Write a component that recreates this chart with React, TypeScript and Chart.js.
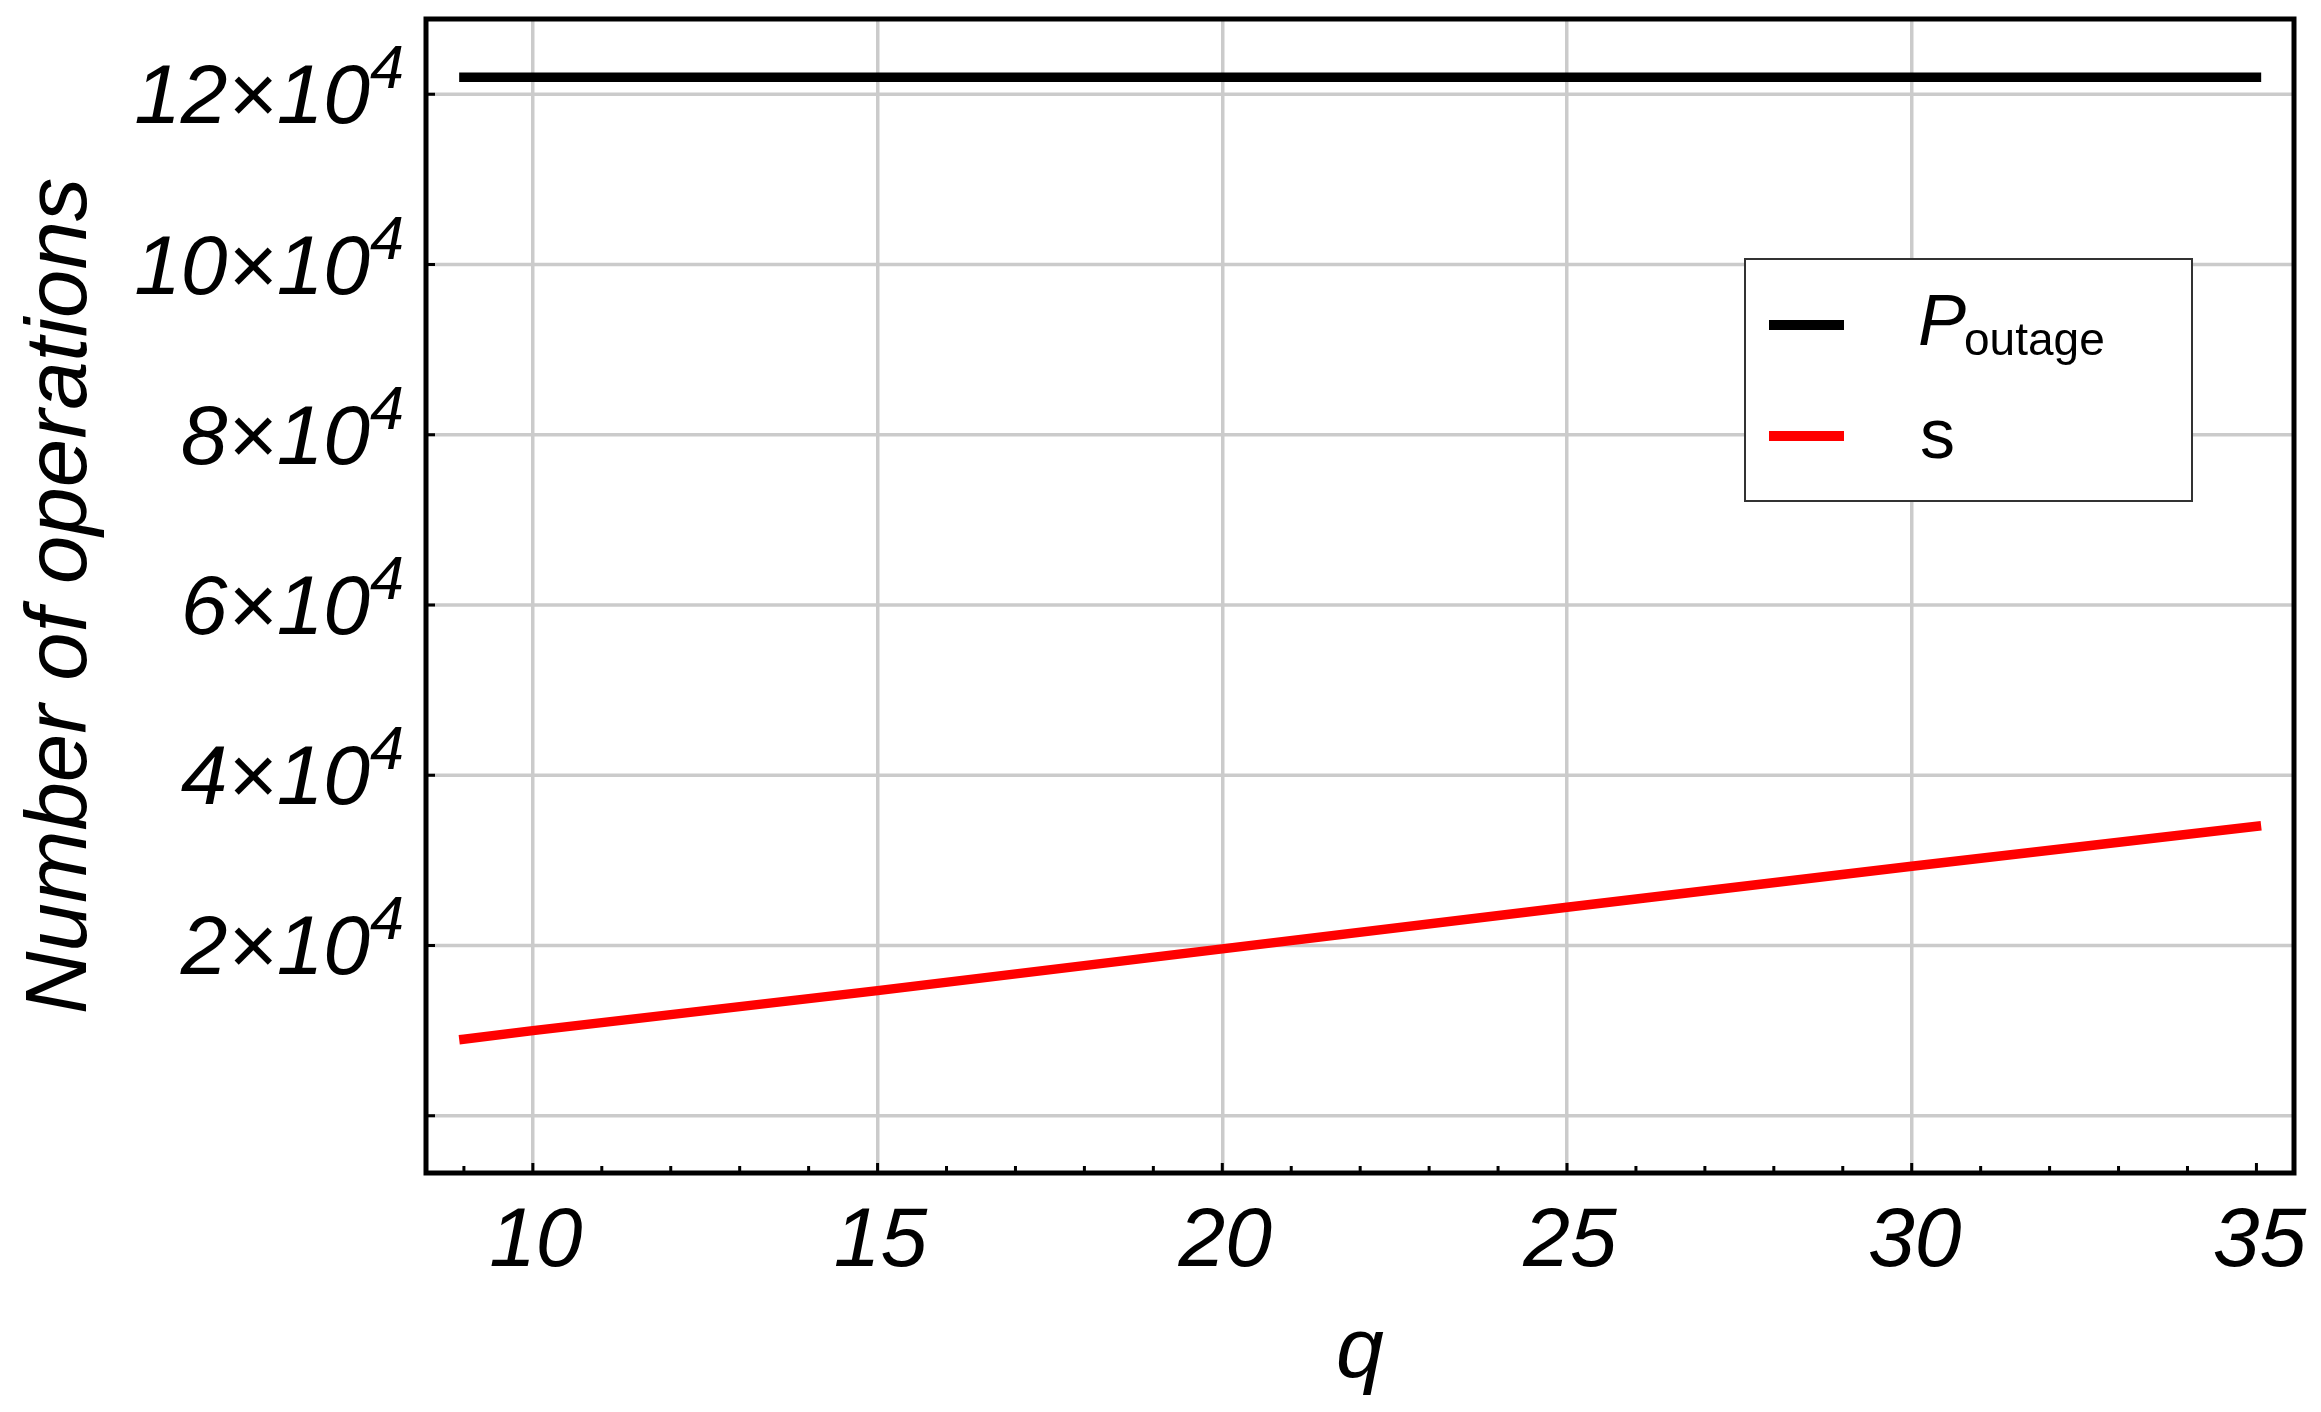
import React, { useEffect, useRef } from "react";
import { Chart, registerables } from "chart.js";

Chart.register(...registerables);

// ---- data ----
const qValues = [9, 10, 15, 20, 25, 30, 35];
const outageValues = [122000, 122000, 122000, 122000, 122000, 122000, 122000];
const sValues = [9000, 10000, 14700, 19600, 24500, 29300, 34000];
const seriesLabels = ["P_outage", "s"];
const xTickValues = [10, 15, 20, 25, 30, 35];
const xTickLabels = ["10", "15", "20", "25", "30", "35"];
const xGridValues = [10, 15, 20, 25, 30];
const yTickValues = [0, 20000, 40000, 60000, 80000, 100000, 120000];
const yTickLabels = ["", "2", "4", "6", "8", "10", "12"];
const yExponent = "4";
const xTitle = "q";
const yTitle = "Number of operations";

const FONT = '"Liberation Sans", Arial, sans-serif';
const GRID = "#cbcbcb";

const overlayPlugin = {
  id: "overlay",
  beforeDatasetsDraw(chart: any) {
    // horizontal grid lines from the y scale
    const ctx: CanvasRenderingContext2D = chart.ctx;
    const { left, right } = chart.chartArea;
    const ys = chart.scales.y;
    ctx.save();
    ctx.strokeStyle = GRID;
    ctx.lineWidth = 3.5;
    ctx.beginPath();
    yTickValues.forEach((v) => {
      const py = ys.getPixelForValue(v);
      ctx.moveTo(left, py);
      ctx.lineTo(right, py);
    });
    ctx.stroke();
    ctx.restore();
  },
  afterDraw(chart: any) {
    const ctx: CanvasRenderingContext2D = chart.ctx;
    const { left, top, right, bottom } = chart.chartArea;
    const xs = chart.scales.x;
    const ys = chart.scales.y;
    ctx.save();

    // frame
    ctx.strokeStyle = "#000";
    ctx.lineWidth = 5;
    ctx.strokeRect(left, top, right - left, bottom - top);

    // tick marks (inward)
    ctx.lineWidth = 3;
    ctx.beginPath();
    for (let q = Math.ceil(xs.min); q <= Math.floor(xs.max); q++) {
      const px = xs.getPixelForValue(q);
      const len = xTickValues.includes(q) ? 10 : 7;
      ctx.moveTo(px, bottom);
      ctx.lineTo(px, bottom - len);
    }
    yTickValues.forEach((v) => {
      const py = ys.getPixelForValue(v);
      ctx.moveTo(left, py);
      ctx.lineTo(left + 9, py);
    });
    ctx.stroke();

    ctx.fillStyle = "#000";
    // x tick labels
    ctx.font = `italic 84px ${FONT}`;
    ctx.textAlign = "center";
    ctx.textBaseline = "alphabetic";
    xTickValues.forEach((v, i) => {
      const px = xs.getPixelForValue(v);
      ctx.fillText(xTickLabels[i], px + 3, 1266);
    });

    // y tick labels with superscript
    yTickValues.forEach((v, i) => {
      const lab = yTickLabels[i];
      if (!lab) return;
      const py = ys.getPixelForValue(v);
      const rightEdge = 404;
      ctx.font = `italic 61px ${FONT}`;
      ctx.textAlign = "right";
      const supW = ctx.measureText(yExponent).width;
      ctx.fillText(yExponent, rightEdge, py - 6);
      ctx.font = `italic 84px ${FONT}`;
      ctx.fillText(lab + "\u00d710", rightEdge - supW, py + 29);
    });

    // axis titles
    ctx.font = `italic 86px ${FONT}`;
    ctx.textAlign = "center";
    ctx.fillText(xTitle, (left + right) / 2, 1377);

    ctx.save();
    ctx.translate(86, (top + bottom) / 2);
    ctx.rotate(-Math.PI / 2);
    ctx.font = `italic 87px ${FONT}`;
    ctx.textAlign = "center";
    ctx.fillText(yTitle, 0, 0);
    ctx.restore();

    // legend
    const lx = 1745, ly = 259, lw = 447, lh = 242;
    ctx.fillStyle = "#fff";
    ctx.fillRect(lx, ly, lw, lh);
    ctx.strokeStyle = "#333";
    ctx.lineWidth = 2;
    ctx.strokeRect(lx, ly, lw, lh);
    const rowY = [325, 436];
    chart.data.datasets.forEach((ds: any, i: number) => {
      const y = rowY[i];
      ctx.strokeStyle = ds.borderColor;
      ctx.lineWidth = 10;
      ctx.beginPath();
      ctx.moveTo(1769, y);
      ctx.lineTo(1844, y);
      ctx.stroke();
      ctx.fillStyle = "#000";
      ctx.textAlign = "left";
      const label: string = ds.label;
      if (label.includes("_")) {
        const [base, sub] = label.split("_");
        ctx.font = `italic 72px ${FONT}`;
        ctx.fillText(base, 1918, y + 20);
        const bw = ctx.measureText(base).width;
        ctx.font = `46px ${FONT}`;
        ctx.fillText(sub, 1918 + bw - 2, y + 30);
      } else {
        ctx.font = `70px ${FONT}`;
        ctx.fillText(label, 1920, y + 22);
      }
    });

    ctx.restore();
  },
};

export default function App() {
  const canvasRef = useRef<HTMLCanvasElement | null>(null);

  useEffect(() => {
    if (!canvasRef.current) return;
    const chart = new Chart(canvasRef.current, {
      type: "line",
      data: {
        datasets: [
          {
            label: seriesLabels[0],
            data: qValues.map((q, i) => ({ x: q, y: outageValues[i] })),
            borderColor: "#000000",
            backgroundColor: "#000000",
            borderWidth: 9.5,
            pointRadius: 0,
            tension: 0,
            borderCapStyle: "square",
          },
          {
            label: seriesLabels[1],
            data: qValues.map((q, i) => ({ x: q, y: sValues[i] })),
            borderColor: "#ff0000",
            backgroundColor: "#ff0000",
            borderWidth: 9.5,
            pointRadius: 0,
            tension: 0,
            borderCapStyle: "square",
          },
        ],
      },
      options: {
        animation: false,
        responsive: false,
        devicePixelRatio: 1,
        layout: { padding: { left: 426, top: 19, right: 27, bottom: 239 } },
        plugins: { legend: { display: false }, tooltip: { enabled: false } },
        scales: {
          x: {
            type: "linear",
            min: 8.45,
            max: 35.545,
            ticks: { display: false, stepSize: 5, includeBounds: false },
            border: { display: false },
            grid: {
              drawTicks: false,
              lineWidth: 3.5,
              color: (c: any) =>
                c.tick && xGridValues.includes(Math.round(c.tick.value)) ? GRID : "rgba(0,0,0,0)",
            },
          },
          y: {
            type: "linear",
            min: -6730,
            max: 128850,
            ticks: { display: false, stepSize: 20000, includeBounds: false },
            border: { display: false },
            grid: { display: false, drawTicks: false },
          },
        },
      },
      plugins: [overlayPlugin],
    });
    return () => chart.destroy();
  }, []);

  return (
    <div style={{ position: "absolute", left: 0, top: 0, width: 2321, height: 1412, background: "#fff" }}>
      <canvas ref={canvasRef} width={2321} height={1412} style={{ display: "block", width: 2321, height: 1412 }} />
    </div>
  );
}
